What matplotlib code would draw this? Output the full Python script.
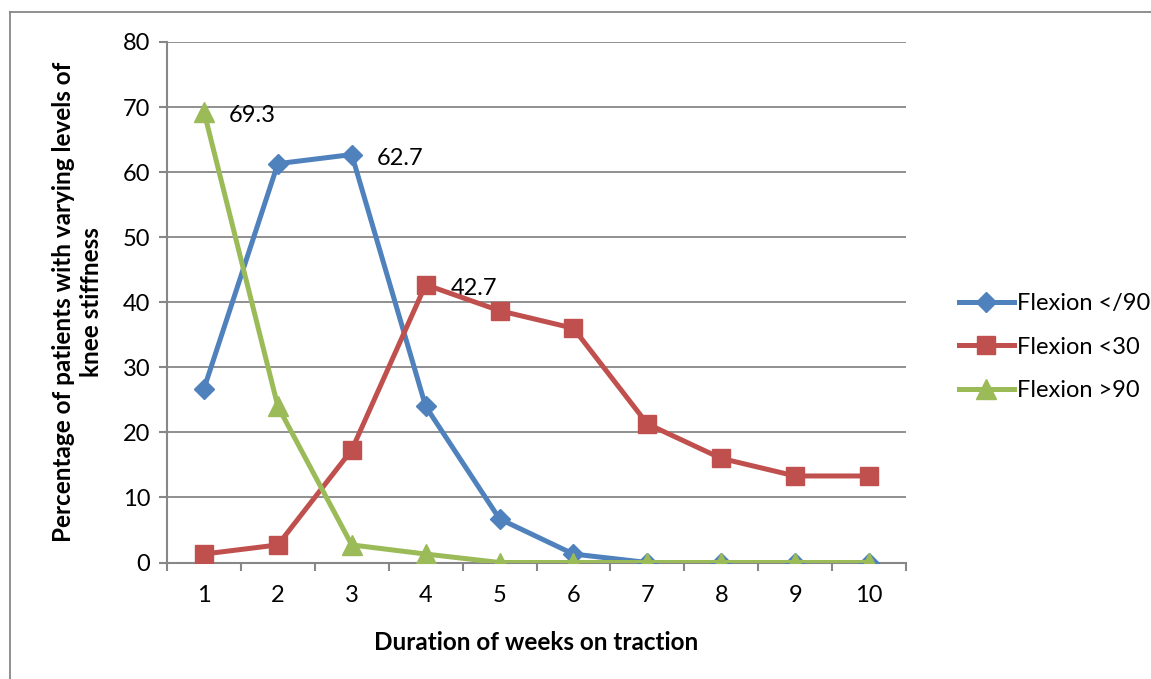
import matplotlib.pyplot as plt
import numpy as np

plt.rcParams['font.family'] = ['Lato', 'DejaVu Sans']

weeks = [1, 2, 3, 4, 5, 6, 7, 8, 9, 10]
flex_lt90 = [26.7, 61.3, 62.7, 24.0, 6.7, 1.3, 0, 0, 0, 0]
flex_lt30 = [1.3, 2.7, 17.3, 42.7, 38.7, 36.0, 21.3, 16.0, 13.3, 13.3]
flex_gt90 = [69.3, 24.0, 2.7, 1.3, 0, 0, 0, 0, 0, 0]
yticks = [0, 10, 20, 30, 40, 50, 60, 70, 80]

blue = '#4F81BD'
red = '#C0504D'
green = '#9BBB59'
gray = '#878787'

W, H = 1151, 679
fig = plt.figure(figsize=(W / 100, H / 100), dpi=100)
ax = fig.add_axes([167 / W, 1 - 562.5 / H, (906 - 167) / W, (562.5 - 42) / H])

ax.plot(weeks, flex_lt90, color=blue, lw=3.6, marker='D', ms=10, label='Flexion </90', zorder=3)
ax.plot(weeks, flex_lt30, color=red, lw=3.6, marker='s', ms=13, label='Flexion <30', zorder=4)
ax.plot(weeks, flex_gt90, color=green, lw=3.6, marker='^', ms=14, label='Flexion >90', zorder=5)

# data labels
for x, y in [(1, flex_gt90[0]), (3, flex_lt90[2]), (4, flex_lt30[3])]:
    ax.annotate(f'{y:.1f}', (x, y), xytext=(18, -3), textcoords='offset points',
                fontsize=17, va='center', ha='left')

ax.set_xlim(0.5, 10.5)
ax.set_ylim(0, 80)
ax.set_yticks(yticks)
ax.set_xticks(weeks)
ax.set_xticks(np.arange(0.5, 11, 1), minor=True)
ax.tick_params(axis='x', which='major', length=0, pad=16, labelsize=17)
ax.tick_params(axis='x', which='minor', length=6, width=1.5, color=gray, direction='out')
ax.tick_params(axis='y', length=6, width=1.5, color=gray, labelsize=17, pad=6)
ax.yaxis.grid(True, color=gray, lw=1.3)
ax.set_axisbelow(True)
for s in ['top', 'right']:
    ax.spines[s].set_visible(False)
for s in ['left', 'bottom']:
    ax.spines[s].set_color(gray)
    ax.spines[s].set_linewidth(1.5)

ax.set_xlabel('Duration of weeks on traction', fontsize=17.5, fontweight='bold', labelpad=18)
ax.set_ylabel('Percentage of patients with varying levels of\nknee stiffness',
              fontsize=17.5, fontweight='bold', labelpad=14, linespacing=1.3)

fig.legend(loc='center left', bbox_to_anchor=(938 / W, 1 - 347 / H), frameon=False,
           fontsize=17, handlelength=2.3, labelspacing=0.95, handletextpad=0.15)

# outer chart frame (left and top edges)
fig.add_artist(plt.Line2D([10 / W, 10 / W], [0, 1 - 12 / H], color=gray, lw=1.3))
fig.add_artist(plt.Line2D([10 / W, 1], [1 - 12 / H, 1 - 12 / H], color=gray, lw=1.3))

fig.savefig('out.png', dpi=100)
